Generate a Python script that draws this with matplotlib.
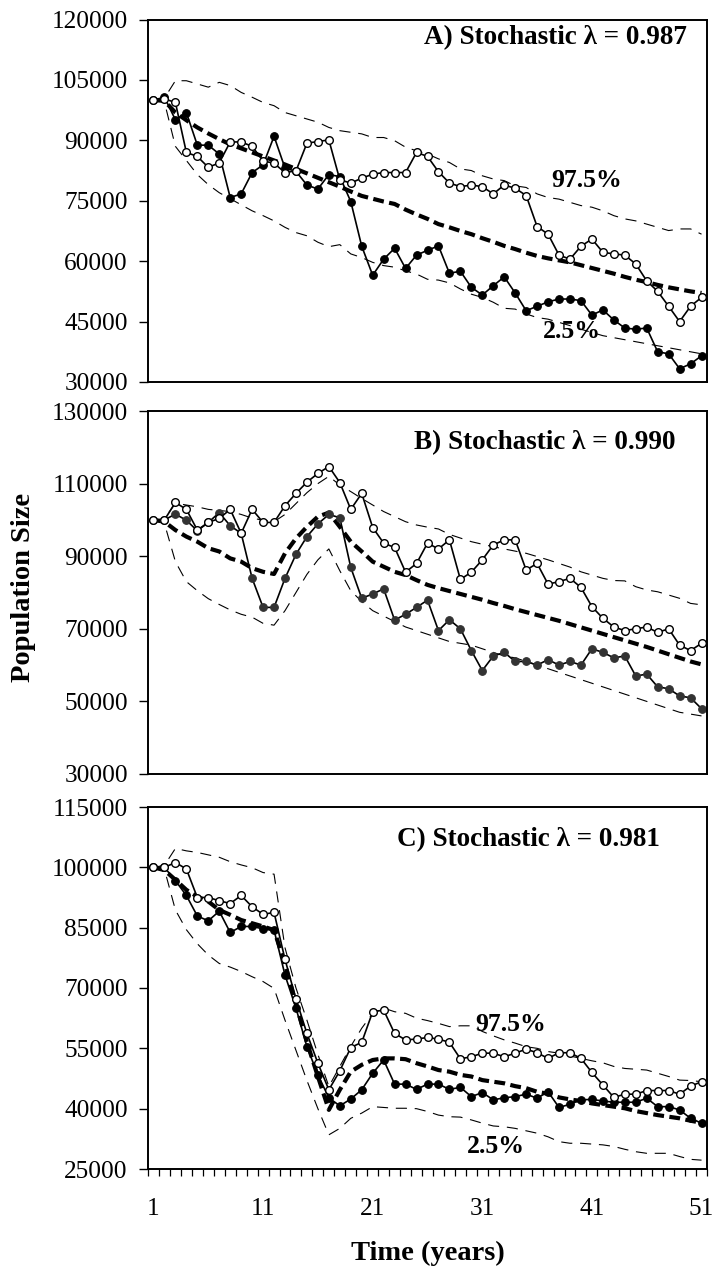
import matplotlib
matplotlib.use("Agg")
import matplotlib.pyplot as plt
import numpy as np

plt.rcParams['font.family'] = ['Liberation Serif', 'DejaVu Serif']

years = list(range(1, 52))
xtick_labels = [1, 11, 21, 31, 41, 51]

# ---------------- Panel A ----------------
a_open = [100000, 100300, 99400, 87000, 86000, 83300, 84400, 89600, 89600, 88500,
          84900, 84300, 82000, 82400, 89300, 89700, 90100, 80200, 79400, 80600,
          81600, 82000, 82000, 82000, 87000, 86000, 82200, 79400, 78500, 78900,
          78500, 76700, 78900, 78100, 76300, 68600, 66700, 61500, 60500, 63700,
          65500, 62200, 61800, 61500, 59300, 55100, 52500, 48800, 45000, 48800, 51000]
a_fill = [100000, 100700, 95100, 96900, 88800, 88800, 86600, 75800, 76700, 82000,
          83900, 91000, 83100, 82300, 78900, 77900, 81500, 81000, 74800, 63700,
          56500, 60500, 63200, 58200, 61500, 62700, 63800, 57000, 57500, 53500,
          51600, 53900, 56100, 52100, 47700, 48800, 49900, 50600, 50600, 50200,
          46600, 47900, 45400, 43400, 43100, 43400, 37500, 37000, 33300, 34500, 36500]
a_mean = [100000, 99800, 96900, 95000, 93200, 91700, 90300, 89000, 88000, 87000,
          86000, 85000, 84000, 82900, 81800, 80700, 79600, 78500, 77300, 76200,
          75500, 74800, 74200, 72800, 71600, 70500, 69200, 68400, 67500, 66700,
          65700, 64800, 63800, 63000, 62100, 61300, 60700, 60200, 59700, 59000,
          58300, 57600, 56900, 56100, 55400, 54800, 54100, 53500, 53000, 52500, 52100]
a_up = [100000, 100500, 104800, 104800, 104000, 103200, 104400, 103600, 101900, 100700,
        99400, 98600, 96900, 96100, 95300, 94500, 93200, 92400, 92000, 91600,
        90700, 90700, 89900, 88300, 87400, 86600, 85400, 84500, 82900, 82500,
        81200, 80400, 80000, 78700, 78300, 76700, 75800, 75400, 74600, 73800,
        73400, 72500, 71300, 70500, 70000, 69200, 68400, 67600, 68000, 68000, 66700]
a_lo = [100000, 99500, 88500, 85000, 81500, 79000, 77000, 75500, 74000, 72500,
        71300, 70000, 68400, 67100, 66300, 64700, 63600, 64100, 61800, 60900,
        59700, 58900, 58500, 57600, 56800, 55500, 55300, 54600, 53100, 51800,
        51000, 49800, 48300, 48100, 46900, 46000, 45600, 44800, 44000, 43100,
        42300, 41500, 41000, 40500, 40000, 39500, 39000, 38500, 38000, 37500, 37000]

# ---------------- Panel B ----------------
b_open = [100000, 100000, 104800, 102900, 97200, 99300, 100400, 102900, 96300, 102900,
          99300, 99300, 103900, 107300, 110400, 112800, 114700, 110300, 102900, 107300,
          97900, 93600, 92400, 85600, 88000, 93600, 92000, 94500, 83600, 85600,
          89000, 93100, 94500, 94500, 86200, 88000, 82300, 83000, 83900, 81400,
          76100, 72900, 70500, 69500, 70000, 70500, 69000, 70000, 65500, 64000, 66000]
b_fill = [100000, 100000, 101600, 99900, 97000, 99300, 102000, 98400, 96300, 83900,
          75900, 75900, 83900, 90500, 95400, 98900, 101500, 100600, 86900, 78400,
          79600, 81000, 72400, 74000, 75900, 77900, 69500, 72500, 70000, 64000,
          58500, 62500, 63500, 61000, 61000, 60000, 61500, 60000, 61000, 60000,
          64500, 63500, 62000, 62500, 57000, 57500, 54000, 53500, 51500, 51000, 48000]
b_mean = [100000, 99500, 97200, 95400, 94000, 92200, 91300, 89400, 88500, 86700,
          85700, 85100, 90800, 94900, 98100, 100900, 102000, 98100, 94000, 91300,
          88500, 87100, 85700, 84800, 83400, 82100, 81200, 80400, 79600, 78800,
          78000, 77100, 76300, 75400, 74600, 73800, 73000, 72200, 71300, 70400,
          69500, 68600, 67700, 66800, 65900, 65000, 64000, 63000, 62000, 61000, 60200]
b_up = [100000, 100300, 104600, 104100, 103600, 102900, 102600, 102300, 101500, 100500,
        99900, 99500, 101500, 104500, 107500, 110000, 112000, 109600, 107800, 105900,
        104100, 102300, 100900, 99500, 98600, 98000, 97500, 96000, 95000, 94000,
        93300, 92600, 92000, 91400, 90800, 89900, 89000, 88000, 87000, 85700,
        84800, 83900, 83300, 83200, 81600, 80700, 80200, 79300, 78400, 77000, 76600]
b_lo = [100000, 99000, 88500, 83000, 80500, 78300, 76700, 75200, 74000, 73200,
        71500, 71000, 75000, 80000, 85000, 89000, 92000, 86000, 80500, 77500,
        75000, 73500, 72000, 70500, 69500, 68500, 67500, 66500, 66000, 65500,
        64500, 63500, 62500, 62000, 61000, 60000, 59000, 58000, 57000, 56000,
        55000, 54000, 53000, 52000, 51000, 50000, 49000, 48000, 47000, 46500, 46000]

# ---------------- Panel C ----------------
c_open = [100000, 100000, 101200, 99600, 92500, 92500, 91700, 91000, 93000, 90200,
          88300, 88800, 77100, 67300, 58700, 51300, 44700, 49400, 55200, 56500,
          64100, 64500, 58700, 57100, 57300, 57700, 57300, 56500, 52400, 52900,
          53800, 53800, 52900, 53800, 54800, 53900, 52500, 53900, 53900, 52500,
          49000, 45900, 42800, 43600, 43600, 44500, 44500, 44500, 43600, 45600, 46700]
c_fill = [100000, 100000, 96700, 93000, 87900, 86700, 89100, 83800, 85300, 85300,
          84700, 84400, 73200, 65000, 55400, 48400, 42700, 40700, 42400, 44700,
          48800, 52100, 46100, 46100, 44800, 46100, 46100, 44800, 45300, 43000,
          44000, 42200, 42700, 43000, 43600, 42600, 44200, 40300, 41100, 42200,
          42300, 41900, 41600, 41600, 41600, 42600, 40500, 40500, 39700, 37600, 36400]
c_mean = [100000, 99300, 96900, 94400, 92700, 91500, 89400, 88200, 86900, 86100,
          85300, 84400, 76000, 66000, 56500, 48000, 39700, 44700, 49200, 50900,
          52100, 52500, 52500, 52300, 51300, 50500, 49600, 49200, 48400, 48000,
          47100, 46700, 46300, 45600, 45100, 44200, 43700, 42800, 42300, 41900,
          41300, 40900, 40500, 40100, 39400, 38900, 38400, 38000, 37600, 37000, 36500]
c_up = [100000, 100500, 104700, 104100, 103700, 103100, 102500, 101400, 100600, 99900,
        98700, 98300, 80000, 70000, 62000, 53500, 45500, 50500, 55500, 60000,
        63700, 65000, 64100, 63700, 62500, 61900, 61200, 60400, 60600, 60600,
        59200, 58100, 57100, 56300, 55400, 55000, 54200, 53800, 53100, 52500,
        51900, 51400, 50500, 50000, 49800, 49600, 48800, 48000, 47100, 47000, 46700]
c_lo = [100000, 99500, 89400, 84500, 81000, 78200, 76100, 75200, 74100, 72800,
        71600, 69900, 62000, 54500, 47000, 40000, 33500, 35100, 37600, 38900,
        40500, 40300, 40100, 40100, 40000, 39300, 38400, 38000, 37900, 37200,
        36400, 35700, 35500, 35100, 34500, 33900, 33000, 31800, 31400, 31400,
        31200, 31000, 30600, 29900, 29300, 28900, 28900, 28900, 28100, 27400, 27200]

titles = ["A) Stochastic \u03bb = 0.987", "B) Stochastic \u03bb = 0.990", "C) Stochastic \u03bb = 0.981"]
ylims = [(30000, 120000), (30000, 130000), (25000, 115000)]
ysteps = [15000, 20000, 15000]

panels = [
    (a_open, a_fill, a_mean, a_up, a_lo),
    (b_open, b_fill, b_mean, b_up, b_lo),
    (c_open, c_fill, c_mean, c_up, c_lo),
]

W, H = 712, 1270
fig = plt.figure(figsize=(W / 100, H / 100), dpi=100)

left, right = 148 / W, 707 / W
boxes = [(19.5, 382), (411, 774), (807, 1169)]
title_pos = [(0.964, 0.949), (0.943, 0.912), (0.916, 0.909)]
pct_labels = [
    [("97.5%", 0.785, 0.557), ("2.5%", 0.758, 0.138)],
    [],
    [("97.5%", 0.649, 0.398), ("2.5%", 0.623, 0.061)],
]

FS = 18.2
TFS = 19.5
PFS = 18.5
LFS = 20.5
for k, (top, bot) in enumerate(boxes):
    ax = fig.add_axes([left, 1 - bot / H, right - left, (bot - top) / H])
    op, fl, mn, up, lo = panels[k]
    ax.plot(years, up, color='black', lw=0.8, dashes=(10, 7))
    ax.plot(years, lo, color='black', lw=0.8, dashes=(10, 7))
    ax.plot(years, mn, color='black', lw=3.0, dashes=(2.6, 1.3))
    fcol = '#333333' if k == 1 else 'black'
    ax.plot(years, fl, color='black', lw=1.2, marker='o', ms=5.5,
            mfc=fcol, mec=fcol, mew=0.8)
    ax.plot(years, op, color='black', lw=1.2, marker='o', ms=5.5,
            mfc='white', mec='black', mew=1.0)

    ax.set_xlim(0.5, 51.5)
    ax.set_ylim(*ylims[k])
    ax.set_yticks(np.arange(ylims[k][0], ylims[k][1] + 1, ysteps[k]))
    ax.set_yticklabels([str(int(v)) for v in ax.get_yticks()], fontsize=FS)
    ax.tick_params(axis='y', direction='out', length=6.5, width=1.0, pad=8)
    for s in ax.spines.values():
        s.set_linewidth(1.4)
    if k == 2:
        ax.set_xticks(xtick_labels)
        ax.set_xticklabels([str(v) for v in xtick_labels], fontsize=FS)
        ax.tick_params(axis='x', which='major', length=0, pad=21)
        ax.set_xticks(np.arange(0.5, 52, 1.0), minor=True)
        ax.tick_params(axis='x', which='minor', direction='out', length=5, width=0.9)
    else:
        ax.set_xticks([])
    ax.text(title_pos[k][0], title_pos[k][1], titles[k], transform=ax.transAxes,
            ha='right', va='center', fontsize=TFS, fontweight='bold')
    for txt, tx, ty in pct_labels[k]:
        ax.text(tx, ty, txt, transform=ax.transAxes, ha='center', va='center',
                fontsize=PFS, fontweight='bold')

fig.text(23 / W, 1 - 587 / H, "Population Size", rotation=90, ha='center', va='center',
         fontsize=LFS, fontweight='bold')
fig.text(428 / W, 1 - 1253 / H, "Time (years)", ha='center', va='center',
         fontsize=LFS, fontweight='bold')

fig.savefig("out.png", dpi=100)
